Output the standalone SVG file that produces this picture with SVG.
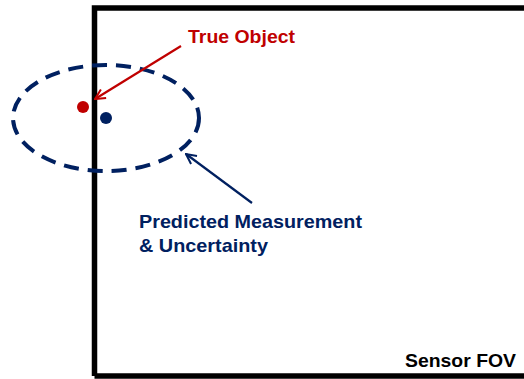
<svg xmlns="http://www.w3.org/2000/svg" width="524" height="379" viewBox="0 0 524 379">
<defs>
<style>
.lbl{font-family:"Liberation Sans",Arial,sans-serif;font-weight:bold;font-size:19px}
.red{fill:#C00000}
.blue{fill:#002060}
</style>
<marker id="ahr" viewBox="0 0 12 12" refX="11" refY="6" markerWidth="12" markerHeight="12" markerUnits="userSpaceOnUse" orient="auto">
<path d="M1,1 L11,6 L1,11" fill="none" stroke="#C00000" stroke-width="2"/>
</marker>
<marker id="ahb" viewBox="0 0 12 12" refX="11" refY="6" markerWidth="12" markerHeight="12" markerUnits="userSpaceOnUse" orient="auto">
<path d="M1,1 L11,6 L1,11" fill="none" stroke="#002060" stroke-width="2"/>
</marker>
</defs>
<rect width="524" height="379" fill="#fff"/>
<g id="fov">
<path d="M94.5,376 V8 H530" fill="none" stroke="#000" stroke-width="5.5"/>
<path d="M94.5,376 H530" fill="none" stroke="#000" stroke-width="5.5"/>
<text class="lbl" x="405" y="367" fill="#000" textLength="111" lengthAdjust="spacingAndGlyphs">Sensor FOV</text>
</g>
<g id="uncertainty">
<ellipse cx="106" cy="118" rx="93" ry="53" fill="none" stroke="#002060" stroke-width="4" stroke-dasharray="15 9"/>
</g>
<g id="true-object">
<circle cx="83" cy="107" r="6" fill="#C00000"/>
<text class="lbl red" x="188" y="43" textLength="107" lengthAdjust="spacingAndGlyphs">True Object</text>
</g>
<g id="predicted">
<circle cx="106" cy="118" r="6" fill="#002060"/>
<text class="lbl blue" x="139" y="228" textLength="223" lengthAdjust="spacingAndGlyphs">Predicted Measurement</text>
<text class="lbl blue" x="139" y="252" textLength="129" lengthAdjust="spacingAndGlyphs">&amp; Uncertainty</text>
</g>
<g id="connectors">
<line x1="181" y1="46" x2="95" y2="99" stroke="#C00000" stroke-width="2.2" marker-end="url(#ahr)"/>
<line x1="252" y1="203" x2="186" y2="154" stroke="#002060" stroke-width="2.2" marker-end="url(#ahb)"/>
</g>
</svg>
